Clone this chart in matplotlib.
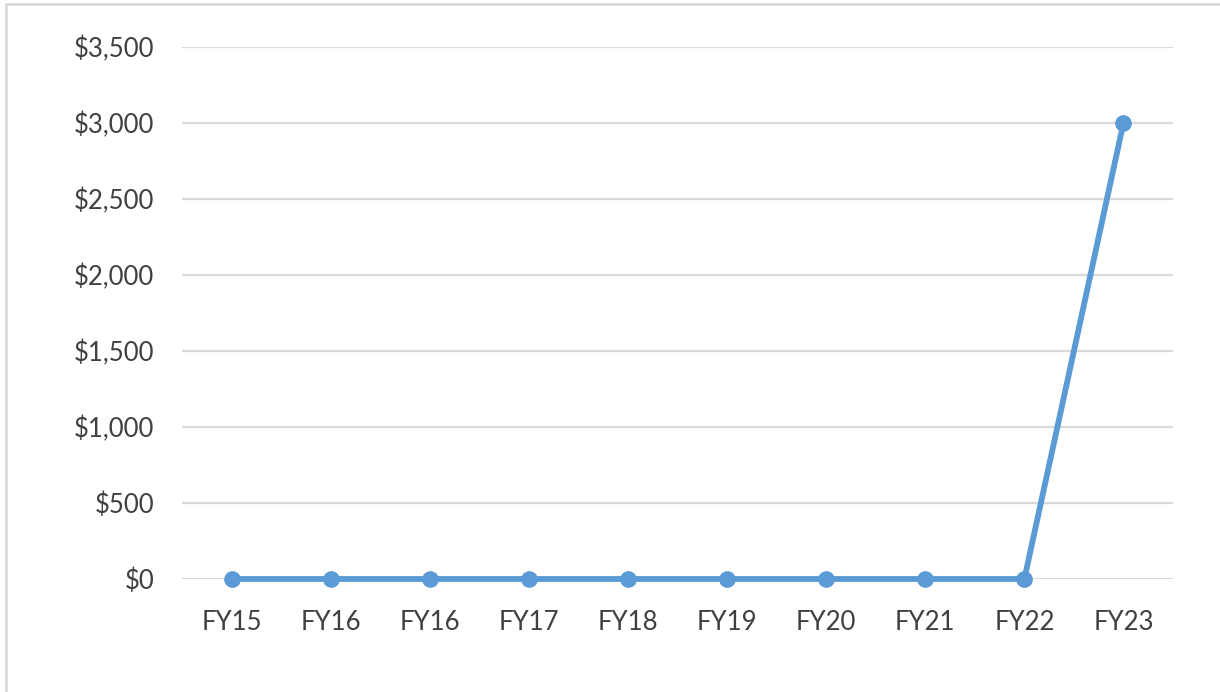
import matplotlib
matplotlib.use('Agg')
import matplotlib.pyplot as plt
from matplotlib.patches import Rectangle
from matplotlib.ticker import FuncFormatter

# data
years = ['FY15', 'FY16', 'FY16', 'FY17', 'FY18', 'FY19', 'FY20', 'FY21', 'FY22', 'FY23']
amounts = [0, 0, 0, 0, 0, 0, 0, 0, 0, 3000]

BLUE = '#5B9BD5'
GRID = '#D9D9D9'
TEXT = '#404040'

plt.rcParams['font.family'] = ['Lato', 'DejaVu Sans']

fig = plt.figure(figsize=(12.2, 6.92), dpi=100)
ax = fig.add_axes([182 / 1220, 1 - 579 / 692, (1173 - 182) / 1220, (579 - 47) / 692])

x = list(range(len(years)))
ax.plot(x, amounts, color=BLUE, linewidth=4.2, marker='o', markersize=11,
        solid_capstyle='round', zorder=3, clip_on=False)

ax.set_xlim(-0.5, len(years) - 0.5)
ax.set_ylim(0, 3500)
ax.set_yticks(range(0, 3501, 500))
ax.yaxis.set_major_formatter(FuncFormatter(lambda v, p: '${:,.0f}'.format(v)))
ax.set_xticks(x)
ax.set_xticklabels(years)

ax.grid(axis='y', color=GRID, linewidth=1.6)
ax.set_axisbelow(True)
for s in ax.spines.values():
    s.set_visible(False)
ax.tick_params(length=0, labelsize=18.5, colors=TEXT)
ax.tick_params(axis='y', pad=20)
ax.tick_params(axis='x', pad=22)

# light chart border
fig.patches.append(Rectangle((6 / 1220, -0.01), 1.02, 1 - 4 / 692 + 0.01,
                             transform=fig.transFigure, fill=False,
                             edgecolor='#D9D9D9', linewidth=2))

fig.savefig('out.png', dpi=100)
